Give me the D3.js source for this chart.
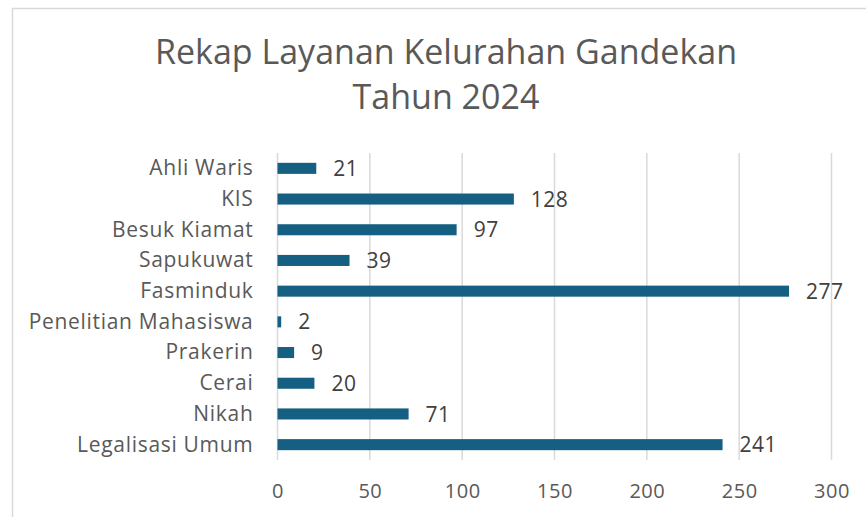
<!DOCTYPE html>
<html><head><meta charset="utf-8">
<script src="https://cdn.jsdelivr.net/npm/d3@7"></script>
<style>body{margin:0;background:#fff;}svg{display:block;font-family:"Open Sans",sans-serif;}</style>
</head><body>
<svg id="c" width="866" height="517"></svg>
<script>
const categories = ["Ahli Waris","KIS","Besuk Kiamat","Sapukuwat","Fasminduk","Penelitian Mahasiswa","Prakerin","Cerai","Nikah","Legalisasi Umum"];
const values = [21,128,97,39,277,2,9,20,71,241];
const ticks = [0,50,100,150,200,250,300];
const titleLines = ["Rekap Layanan Kelurahan Gandekan","Tahun 2024"];

const svg = d3.select("#c");
svg.append("rect").attr("x",12.5).attr("y",8.5).attr("width",900).attr("height",600)
  .attr("fill","#fff").attr("stroke","#d9d9d9").attr("stroke-width",1.5);

const x = d3.scaleLinear().domain([0,300]).range([277.5,831.5]);
const y = d3.scaleBand().domain(categories).range([153,460]).paddingInner(0.64).paddingOuter(0.32);

svg.append("g").selectAll("line").data(ticks).join("line")
  .attr("x1",d=>x(d)).attr("x2",d=>x(d)).attr("y1",153).attr("y2",460)
  .attr("stroke","#d9d9d9").attr("stroke-width",1.5);

const xAxis = d3.axisBottom(x).tickValues(ticks).tickSize(0).tickPadding(0);
const gx = svg.append("g").attr("transform","translate(0,460)").call(xAxis);
gx.select(".domain").remove();
gx.selectAll("text").attr("fill","#595959").attr("font-size",20).attr("font-family","Open Sans")
  .attr("dy",0).attr("y",38).attr("letter-spacing",0.5);

const yAxis = d3.axisLeft(y).tickSize(0).tickPadding(24);
const gy = svg.append("g").attr("transform","translate(277.5,0)").call(yAxis);
gy.select(".domain").remove();
gy.selectAll("text").attr("fill","#595959").attr("font-size",21).attr("font-family","Open Sans")
  .attr("letter-spacing",0.7).attr("dy","0.33em");

const data = categories.map((c,i)=>({c,v:values[i]}));
svg.append("g").selectAll("rect").data(data).join("rect")
  .attr("x",x(0)).attr("y",d=>y(d.c)).attr("width",d=>x(d.v)-x(0)).attr("height",y.bandwidth())
  .attr("fill","#156082");

svg.append("g").selectAll("text").data(data).join("text")
  .attr("x",d=>x(d.v)+17).attr("y",d=>y(d.c)+y.bandwidth()/2).attr("dy","0.36em")
  .attr("fill","#404040").attr("font-size",21).attr("letter-spacing",0.5).text(d=>d.v);

svg.append("g").selectAll("text").data(titleLines).join("text")
  .attr("x",446).attr("y",(d,i)=>64+i*45).attr("text-anchor","middle")
  .attr("fill","#595959").attr("font-size",34).text(d=>d);
</script>
</body></html>
